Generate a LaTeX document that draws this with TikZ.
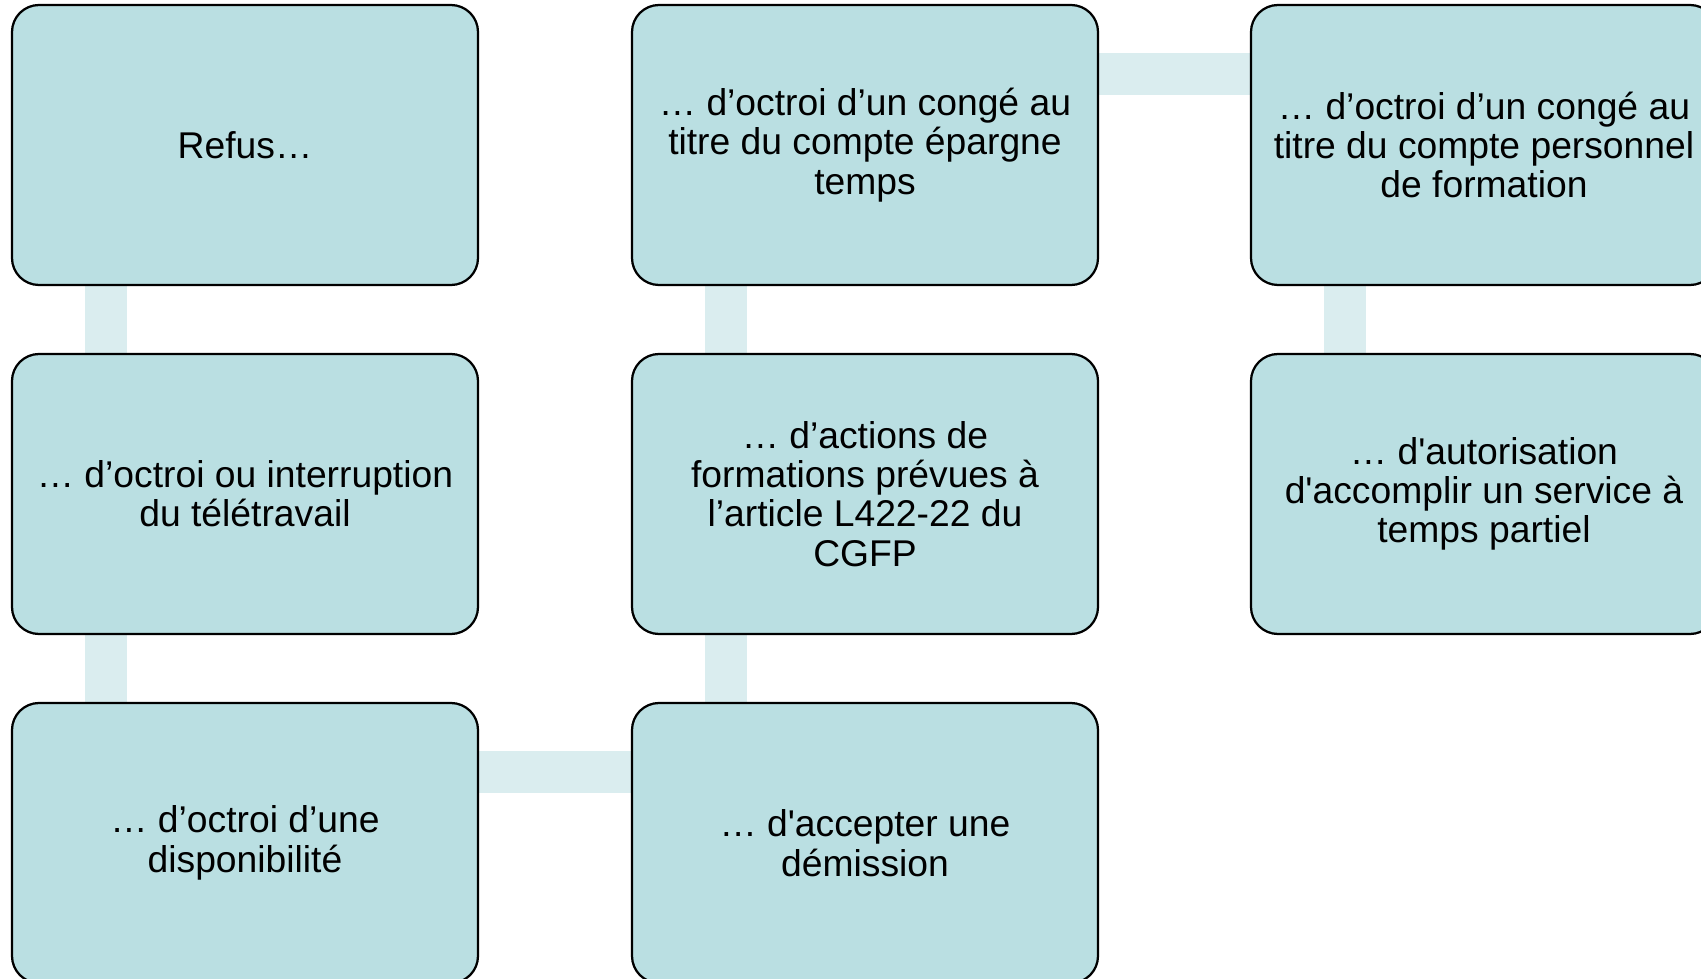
\documentclass[tikz,border=0pt]{standalone}
\usepackage{fontspec}
\newfontfamily\arial{Liberation Sans}
\usepackage{tikz}
\usetikzlibrary{shapes}
\pgfdeclarelayer{edgelayer}
\pgfdeclarelayer{nodelayer}
\pgfsetlayers{edgelayer,nodelayer,main}
\definecolor{boxfill}{RGB}{186,223,226}
\definecolor{linkfill}{RGB}{218,237,239}
\tikzstyle{box}=[rectangle, rounded corners=0.54cm, draw=black, line width=0.045cm, fill=boxfill, minimum width=9.32cm, minimum height=5.6cm, inner sep=0pt, align=center, font=\arial\fontsize{21.2}{22.4}\selectfont]
\tikzstyle{link}=[color=linkfill, line width=0.84cm]

\begin{document}
\begin{tikzpicture}
	\useasboundingbox (0, 0) rectangle (34.02, -19.58);
	\begin{pgfonlayer}{nodelayer}
		\node [style=box] (0) at (4.9, -2.9) {Refus…};
		\node [style=box] (1) at (4.9, -9.88) {… d’octroi ou interruption\\du télétravail};
		\node [style=box] (2) at (4.9, -16.86) {… d’octroi d’une\\disponibilité};
		\node [style=box] (3) at (17.3, -16.86) {… d'accepter une\\démission};
		\node [style=box] (4) at (17.3, -9.88) {… d’actions de\\formations prévues à\\l’article L422-22 du\\CGFP};
		\node [style=box] (5) at (17.3, -2.9) {… d’octroi d’un congé au\\titre du compte épargne\\temps};
		\node [style=box] (6) at (29.68, -2.9) {… d’octroi d’un congé au\\titre du compte personnel\\de formation};
		\node [style=box] (7) at (29.68, -9.88) {… d'autorisation\\d'accomplir un service à\\temps partiel};
	\end{pgfonlayer}
	\begin{pgfonlayer}{edgelayer}
		\draw [style=link] ([xshift=-2.78cm]0.center) to ([xshift=-2.78cm]1.center);
		\draw [style=link] ([xshift=-2.78cm]1.center) to ([xshift=-2.78cm]2.center);
		\draw [style=link] ([yshift=1.42cm]2.center) to ([yshift=1.42cm]3.center);
		\draw [style=link] ([xshift=-2.78cm]3.center) to ([xshift=-2.78cm]4.center);
		\draw [style=link] ([xshift=-2.78cm]4.center) to ([xshift=-2.78cm]5.center);
		\draw [style=link] ([yshift=1.42cm]5.center) to ([yshift=1.42cm]6.center);
		\draw [style=link] ([xshift=-2.78cm]6.center) to ([xshift=-2.78cm]7.center);
	\end{pgfonlayer}
\end{tikzpicture}
\end{document}
